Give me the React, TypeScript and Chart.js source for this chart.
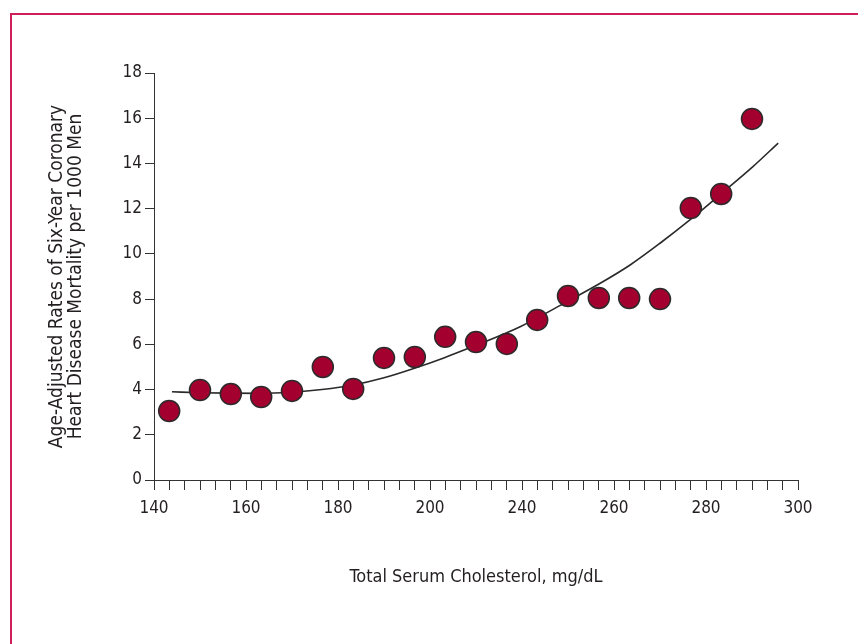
import React, { useEffect, useRef } from "react";
import { Chart, registerables } from "chart.js";

Chart.register(...registerables);

// Printed x-axis labels (the source figure prints them at equal spacing)
const X_TICK_LABELS = ["140", "160", "180", "200", "240", "260", "280", "300"];
const Y_TICKS_MAX = 18;

// Ventile positions on the printed axis scale and their mortality rates
const POINT_X = [143.3, 150, 156.7, 163.3, 170, 176.7, 183.3, 190, 196.7, 203.3, 210, 216.7, 223.3, 230, 236.7, 243.3, 250, 256.7, 263.3, 270];
const POINT_Y = [3.05, 3.98, 3.8, 3.67, 3.94, 5.0, 4.03, 5.4, 5.44, 6.33, 6.1, 6.02, 7.08, 8.14, 8.05, 8.05, 8.0, 12.03, 12.65, 15.97];

// Fitted curve
const CURVE_X = [143.9, 150, 156.5, 163, 169.8, 176.5, 183.3, 190, 196.3, 203, 209.3, 219.6, 229.8, 237, 243.5, 250, 256.5, 263, 270.2, 275.7];
const CURVE_Y = [3.9, 3.86, 3.84, 3.83, 3.88, 4.0, 4.2, 4.52, 4.92, 5.4, 5.9, 6.78, 7.89, 8.7, 9.51, 10.47, 11.5, 12.61, 13.86, 14.9];

const FONT = "'Liberation Sans Narrow', 'Arial Narrow', 'DejaVu Sans Condensed', sans-serif";

export default function App() {
  const ref = useRef<HTMLCanvasElement | null>(null);

  useEffect(() => {
    if (!ref.current) return;
    const minorPerMajor = 6;
    const majorStep = 20;
    const xMin = 140;
    const xMax = xMin + majorStep * (X_TICK_LABELS.length - 1);

    const chart = new Chart(ref.current, {
      type: "scatter",
      data: {
        datasets: [
          {
            label: "points",
            data: POINT_X.map((x, i) => ({ x, y: POINT_Y[i] })),
            backgroundColor: "#a3002f",
            borderColor: "#2e2a2b",
            borderWidth: 1.5,
            pointRadius: 10.5,
            order: 1,
          },
          {
            label: "curve",
            data: CURVE_X.map((x, i) => ({ x, y: CURVE_Y[i] })),
            showLine: true,
            borderColor: "#2a2a2a",
            borderWidth: 1.6,
            pointRadius: 0,
            cubicInterpolationMode: "monotone",
            fill: false,
            order: 2,
          } as any,
        ],
      },
      options: {
        responsive: false,
        animation: false,
        layout: { padding: { top: 73, right: 60, bottom: 0, left: 0 } },
        plugins: { legend: { display: false }, tooltip: { enabled: false } },
        scales: {
          x: {
            type: "linear",
            min: xMin,
            max: xMax,
            afterBuildTicks: (s: any) => {
              const ticks = [];
              const n = (X_TICK_LABELS.length - 1) * minorPerMajor;
              for (let i = 0; i <= n; i++) ticks.push({ value: xMin + (i * majorStep) / minorPerMajor });
              s.ticks = ticks;
            },
            afterFit: (s: any) => {
              s.height = 164;
            },
            grid: {
              display: true,
              drawOnChartArea: false,
              drawTicks: true,
              tickLength: 10,
              color: "#333",
              lineWidth: 1,
            },
            border: { display: true, color: "#333", width: 1 },
            ticks: {
              autoSkip: false,
              maxRotation: 0,
              padding: 8,
              color: "#231f20",
              font: { family: FONT, size: 17 },
              callback: (_v: any, i: number) => (i % minorPerMajor === 0 ? X_TICK_LABELS[i / minorPerMajor] : ""),
            },
            title: {
              display: true,
              text: "Total Serum Cholesterol, mg/dL",
              color: "#231f20",
              font: { family: FONT, size: 18, lineHeight: 1.1 },
              padding: { top: 0, bottom: 57 },
            },
          },
          y: {
            type: "linear",
            min: 0,
            max: Y_TICKS_MAX,
            afterFit: (s: any) => {
              s.width = 154;
            },
            grid: {
              display: true,
              drawOnChartArea: false,
              tickLength: 9,
              color: "#333",
              lineWidth: 1,
            },
            border: { display: true, color: "#333", width: 1 },
            ticks: {
              stepSize: 2,
              padding: 3,
              color: "#231f20",
              font: { family: FONT, size: 17 },
            },
            title: {
              display: true,
              text: ["Age-Adjusted Rates of Six-Year Coronary", "Heart Disease Mortality per 1000 Men"],
              color: "#231f20",
              font: { family: FONT, size: 19, lineHeight: 1.0 },
              padding: { top: 48, bottom: 0 },
            },
          },
        },
      },
    });
    return () => chart.destroy();
  }, []);

  return (
    <div style={{ position: "fixed", left: 0, top: 0, width: 858, height: 644, background: "#fff", overflow: "hidden" }}>
      <div style={{ position: "absolute", left: 10, top: 13, width: 848, height: 2, background: "#cf1f5b" }} />
      <div style={{ position: "absolute", left: 10, top: 13, width: 2, height: 631, background: "#cf1f5b" }} />
      <canvas ref={ref} width={858} height={644} style={{ position: "absolute", left: 0, top: 0, width: 858, height: 644 }} />
    </div>
  );
}
